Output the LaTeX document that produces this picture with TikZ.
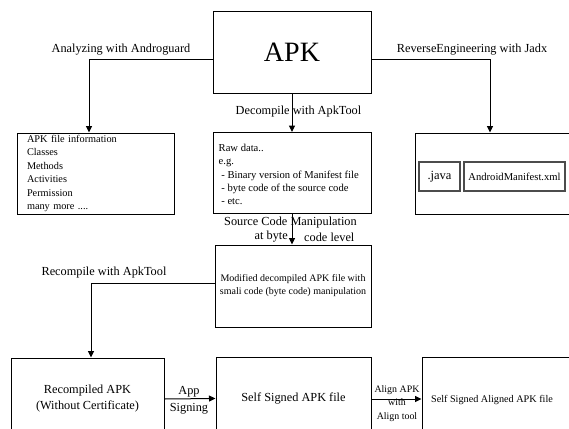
\documentclass[tikz,border=0pt]{standalone}
\usepackage{fontspec}
\setmainfont{Liberation Serif}
\usetikzlibrary{arrows.meta}
\begin{document}
\begin{tikzpicture}[x=1pt,y=-1pt,
  box/.style={draw=black, line width=1pt, inner sep=0pt},
  arr/.style={draw=black, line width=1pt, -{Triangle[length=6.5pt,width=6pt]}},
  lbl/.style={font=\fontsize{12.3}{14}\selectfont, inner sep=0pt},
  small/.style={font=\fontsize{10}{13}\selectfont, inner sep=0pt},
  inbox/.style={draw=black!70, line width=1.3pt, inner sep=0pt}]
\useasboundingbox (0,0) rectangle (569,428);
\clip (0,0) rectangle (569,428);
% boxes
\node[box, minimum width=158, minimum height=81, font=\fontsize{28}{30}\selectfont] (apk) at (292,52.5) {APK};
\node[box, minimum width=157, minimum height=81, align=left, text width=137, inner xsep=10pt, font=\fontsize{10.3}{13.4}\selectfont] (andro) at (95.5,173.5)
  {APK file information\\Classes\\Methods\\Activities\\Permission\\many more ....};
\node[box, minimum width=158, minimum height=81] (raw) at (292,173) {};
\node[align=left, inner sep=0pt, anchor=west, font=\fontsize{10.6}{13.4}\selectfont] (rawtxt) at ([xshift=6pt,yshift=-1.5pt]raw.west)
  {Raw data..\\e.g.\\\ - Binary version of Manifest file\\\ - byte code of the source code\\\ - etc.};
\node[box, minimum width=170, minimum height=81] (jadx) at (500,173.5) {};
\node[inbox, minimum width=41, minimum height=29, font=\fontsize{12.5}{14}\selectfont] (java) at (439.5,176.5) {.java};
\node[inbox, minimum width=101, minimum height=29, font=\fontsize{10.6}{13}\selectfont] (mani) at (514.5,176.5) {AndroidManifest.xml};
\node[box, minimum width=156, minimum height=82, align=center, font=\fontsize{10}{13}\selectfont] (mod) at (293,286)
  {Modified decompiled APK file with\\smali code (byte code) manipulation};
\node[box, minimum width=153, minimum height=82, align=center, font=\fontsize{12.3}{16}\selectfont] (recomp) at (87.5,399)
  {Recompiled APK\\(Without Certificate)};
\node[box, minimum width=155, minimum height=83, font=\fontsize{12.3}{14}\selectfont] (signed) at (293.5,398.5) {Self Signed APK file};
\node[box, minimum width=160, minimum height=83, font=\fontsize{10.2}{13}\selectfont, text depth=0pt] (aligned) at (502,398.5) {\hspace*{-20pt}Self Signed Aligned APK file};
% labels
\node[lbl] (l1) at (121,50) {Analyzing with Androguard};
\node[lbl] (l2) at (472,50) {ReverseEngineering with Jadx};
\node[lbl] (l3) at (298.5,112) {Decompile with ApkTool};
\node[lbl] (l4a) at (290.5,223) {Source Code Manipulation};
\node[lbl, anchor=east] (l4b) at (288,237) {at byte};
\node[lbl, anchor=west] (l4c) at (304,237) {code level};
\node[lbl] (l5) at (104,273) {Recompile with ApkTool};
\node[lbl, align=center, font=\fontsize{12.3}{17}\selectfont] (l6) at (189,400.5) {App\\Signing};
\node[small, align=center, font=\fontsize{9.9}{13.5}\selectfont] (l7) at (397,403.5) {Align APK\\with\\Align tool};
% connectors
\draw[arr] ([yshift=-6.5]apk.west) -| ([xshift=-6.5]andro.north);
\draw[arr] ([yshift=-6.5]apk.east) -| ([xshift=-10]jadx.north);
\draw[arr] (apk.south) -- (raw.north);
\draw[arr] (raw.south) -- ([xshift=-1]mod.north);
\draw[arr] ([yshift=3]mod.west) -| ([xshift=3.5]recomp.north);
\draw[arr] (recomp.east) -- (signed.west);
\draw[arr] ([yshift=-0.5]signed.east) -- ([yshift=-0.5]aligned.west);
\end{tikzpicture}
\end{document}
